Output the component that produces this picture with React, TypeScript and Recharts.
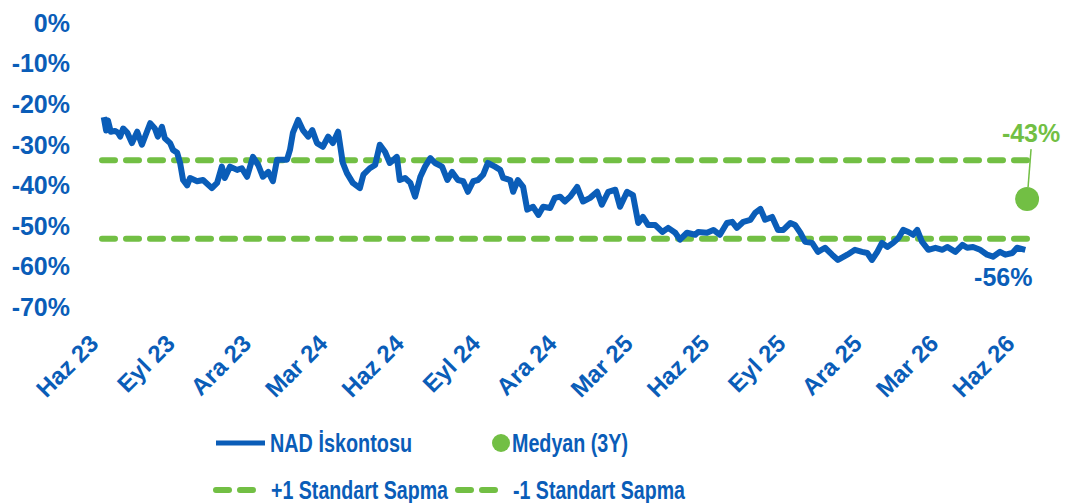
import React from "react";
import {
  LineChart,
  Line,
  XAxis,
  YAxis,
  ReferenceLine,
  ReferenceDot,
} from "recharts";

const BLUE = "#0A5DB8";
const GREEN = "#72BF44";
const FONT = "'Liberation Sans', Arial, sans-serif";

// weeks since Haz 23
const weeks = [
  0.3, 0.7, 1.0, 1.5, 2.2, 2.7, 3.1, 3.6, 4.3, 5.1, 6.0, 6.8, 8.2, 9.0, 9.5,
  10.2, 10.7, 11.6, 12.1, 12.8, 13.3, 13.8, 14.5, 15.0, 16.2, 17.2, 18.7, 19.6,
  20.4, 20.9, 21.8, 23.0, 23.8, 24.7, 25.7, 26.6, 27.4, 28.3, 29.1, 29.8, 31.5,
  32.0, 32.5, 33.4, 34.2, 35.1, 35.8, 36.6, 37.6, 38.5, 39.3, 40.2, 41.0, 41.7,
  42.7, 43.9, 44.5, 45.6, 46.5, 47.3, 48.2, 49.0, 50.2, 50.7, 51.6, 52.5, 53.3,
  54.2, 55.0, 55.9, 56.7, 57.9, 58.8, 59.6, 60.6, 61.5, 62.3, 63.2, 64.0, 64.9,
  65.7, 66.9, 67.8, 68.3, 69.5, 70.0, 70.8, 71.7, 72.4, 73.4, 74.3, 75.1, 76.3,
  77.1, 78.0, 78.8, 79.7, 80.9, 81.9, 83.1, 84.3, 85.1, 86.2, 87.4, 88.2, 89.4,
  90.4, 91.3, 92.1, 93.0, 94.2, 95.4, 96.4, 97.6, 98.4, 99.6, 101.0, 101.5,
  103.0, 104.1, 105.2, 106.4, 107.3, 108.1, 109.2, 110.4, 111.2, 112.1, 112.9,
  114.1, 115.1, 116.0, 117.2, 118.0, 118.9, 119.7, 120.9, 121.9, 123.1, 124.3,
  125.3, 126.9, 128.2, 129.4, 130.3, 131.1, 132.0, 132.8, 133.7, 134.7, 135.6,
  136.4, 137.3, 138.1, 138.8, 139.6, 140.7, 141.9, 143.1, 143.9, 145.3, 146.5,
  147.3, 148.3, 149.5, 150.7, 151.7, 152.9, 153.8, 155.0, 155.8, 157.2,
];

const nadDiscount = [
  -23.2, -26.5, -24.0, -26.8, -26.6, -27.0, -28.0, -26.0, -27.0, -29.6, -26.8,
  -30.0, -24.7, -26.0, -28.0, -25.6, -28.4, -29.6, -31.3, -32.0, -34.5, -38.7,
  -40.0, -38.2, -39.0, -38.7, -40.7, -39.4, -35.4, -38.2, -35.4, -36.2, -35.8,
  -37.9, -33.0, -35.0, -37.9, -36.7, -39.0, -33.7, -33.7, -31.3, -27.1, -23.9,
  -26.4, -28.0, -26.4, -29.6, -30.5, -28.0, -29.6, -26.8, -34.5, -37.0, -39.4,
  -40.7, -37.4, -35.8, -35.0, -30.0, -31.8, -34.5, -33.0, -38.7, -38.2, -39.4,
  -42.8, -37.9, -35.4, -33.3, -34.5, -35.4, -38.7, -36.7, -38.7, -39.0, -41.6,
  -39.0, -38.7, -37.4, -34.5, -35.4, -36.2, -38.2, -38.7, -41.6, -38.7, -40.4,
  -46.0, -45.3, -47.3, -45.3, -45.6, -43.1, -42.8, -44.0, -42.8, -40.4, -44.0,
  -43.1, -41.6, -44.8, -41.6, -41.1, -45.3, -41.6, -42.4, -49.3, -47.8, -49.8,
  -49.8, -51.5, -50.5, -51.7, -53.4, -51.7, -52.2, -51.5, -51.7, -51.0, -52.2,
  -49.3, -49.0, -50.5, -49.0, -48.5, -46.8, -45.8, -48.5, -47.8, -51.0, -51.0,
  -49.3, -49.8, -51.7, -53.9, -54.2, -56.4, -55.4, -57.1, -58.4, -57.1, -55.9,
  -56.4, -56.7, -58.4, -56.4, -54.2, -55.2, -54.2, -53.0, -51.0, -51.5, -52.2,
  -51.0, -53.9, -55.9, -55.4, -55.9, -55.2, -56.4, -54.7, -55.4, -55.2, -55.9,
  -57.1, -57.6, -56.4, -57.1, -56.7, -55.4, -55.9,
];

const tickLabels = [
  "Haz 23", "Eyl 23", "Ara 23", "Mar 24", "Haz 24", "Eyl 24", "Ara 24",
  "Mar 25", "Haz 25", "Eyl 25", "Ara 25", "Mar 26", "Haz 26",
];
const tickWeeks = [0, 13, 26, 39, 52, 65, 78, 91, 104, 117, 130, 143, 156];
const yTicks = [-70, -60, -50, -40, -30, -20, -10, 0];

const median3Y = -43.4;
const plusOneSd = -33.8;
const minusOneSd = -53.2;
const lastValue = -56;

const data = weeks.map((t, i) => ({ t, nad: nadDiscount[i] }));
const lastIdx = data.length - 1;

const XTick = (props: any) => {
  const { x, y, payload } = props;
  const idx = tickWeeks.indexOf(payload.value);
  const ax = x - 2;
  const ay = y + 38;
  return (
    <text
      x={ax}
      y={ay}
      transform={`rotate(-45 ${ax} ${ay})`}
      textAnchor="end"
      fill={BLUE}
      fontSize={24}
      fontWeight="bold"
      fontFamily={FONT}
    >
      {tickLabels[idx]}
    </text>
  );
};

const LastLabel = (props: any) => {
  const { x, y, index } = props;
  if (index !== lastIdx) return null;
  return (
    <text
      x={x - 22}
      y={y + 36}
      textAnchor="middle"
      fill={BLUE}
      fontSize={25}
      fontWeight="bold"
      fontFamily={FONT}
    >
      {`${lastValue}%`}
    </text>
  );
};

const MedianDot = (props: any) => {
  const { cx, cy } = props;
  return (
    <g>
      <line x1={cx + 4} y1={cy - 50} x2={cx + 1} y2={cy - 12} stroke={GREEN} strokeWidth={1.5} />
      <circle cx={cx} cy={cy} r={12} fill={GREEN} />
      <text
        x={cx + 4}
        y={cy - 57}
        textAnchor="middle"
        fill={GREEN}
        fontSize={25}
        fontWeight="bold"
        fontFamily={FONT}
      >
        {`${Math.round(median3Y)}%`}
      </text>
    </g>
  );
};

const Legend = () => {
  const txt = {
    fill: BLUE,
    fontSize: 26,
    fontWeight: "bold" as const,
    fontFamily: FONT,
  };
  const dash = "13 11";
  return (
    <svg
      width={1069}
      height={90}
      style={{ position: "absolute", left: 0, top: 415 }}
    >
      <line x1={216} y1={28} x2={265} y2={28} stroke={BLUE} strokeWidth={5} />
      <text x={270} y={37} textLength={142} lengthAdjust="spacingAndGlyphs" {...txt}>
        NAD İskontosu
      </text>
      <circle cx={501} cy={28} r={9} fill={GREEN} />
      <text x={512} y={37} textLength={116} lengthAdjust="spacingAndGlyphs" {...txt}>
        Medyan (3Y)
      </text>
      <line x1={216} y1={75} x2={262} y2={75} stroke={GREEN} strokeWidth={6} strokeDasharray={dash} strokeLinecap="round" />
      <text x={271} y={84} textLength={177} lengthAdjust="spacingAndGlyphs" {...txt}>
        +1 Standart Sapma
      </text>
      <line x1={458} y1={75} x2={504} y2={75} stroke={GREEN} strokeWidth={6} strokeDasharray={dash} strokeLinecap="round" />
      <text x={513} y={84} textLength={172} lengthAdjust="spacingAndGlyphs" {...txt}>
        -1 Standart Sapma
      </text>
    </svg>
  );
};

export default function App() {
  return (
    <div style={{ position: "absolute", left: 0, top: 0, width: 1069, height: 503, background: "#fff" }}>
      <LineChart
        width={1069}
        height={503}
        data={data}
        margin={{ top: 23, right: 39, left: 0, bottom: 96 }}
      >
        <XAxis
          type="number"
          dataKey="t"
          domain={[0, 158]}
          ticks={tickWeeks}
          interval={0}
          axisLine={false}
          tickLine={false}
          tickSize={0}
          tickMargin={0}
          height={100}
          tick={<XTick />}
        />
        <YAxis
          type="number"
          domain={[-70, 0]}
          ticks={yTicks}
          width={102}
          axisLine={false}
          tickLine={false}
          tickSize={0}
          tickMargin={32}
          tickFormatter={(v: number) => `${v}%`}
          tick={{ fill: BLUE, fontSize: 25, fontWeight: "bold", fontFamily: FONT }}
        />
        <ReferenceLine
          y={plusOneSd}
          stroke={GREEN}
          strokeWidth={6}
          strokeDasharray="13 11"
          strokeLinecap="round"
        />
        <ReferenceLine
          y={minusOneSd}
          stroke={GREEN}
          strokeWidth={6}
          strokeDasharray="13 11"
          strokeLinecap="round"
        />
        <Line
          type="linear"
          dataKey="nad"
          stroke={BLUE}
          strokeWidth={6}
          strokeLinejoin="round"
          dot={false}
          isAnimationActive={false}
          label={<LastLabel />}
        />
        <ReferenceDot x={157.5} y={median3Y} r={12} shape={<MedianDot />} />
      </LineChart>
      <Legend />
    </div>
  );
}
